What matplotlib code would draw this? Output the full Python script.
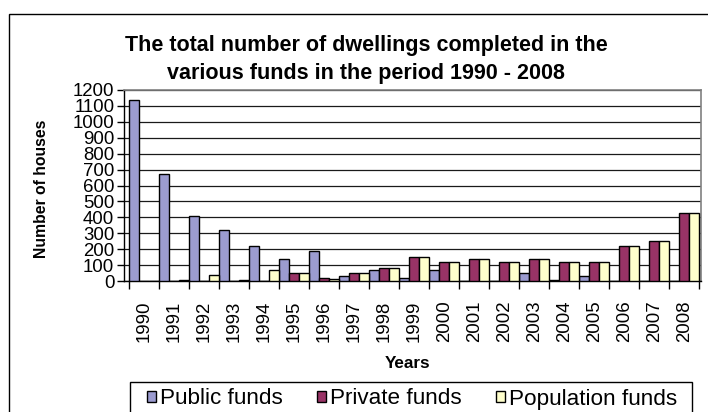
import matplotlib
matplotlib.use("Agg")
import matplotlib.pyplot as plt
from matplotlib.patches import Rectangle, Patch
import numpy as np

plt.rcParams['font.family'] = ['Liberation Sans', 'DejaVu Sans']

years = [str(y) for y in range(1990, 2009)]
public_funds = [1140, 675, 410, 320, 220, 140, 190, 30, 70, 20,
                70, 0, 0, 50, 5, 30, 0, 0, 0]
private_funds = [0, 0, 0, 0, 0, 50, 18, 50, 80, 150,
                 120, 140, 120, 140, 120, 120, 220, 250, 430]
population_funds = [0, 8, 40, 8, 70, 50, 15, 50, 80, 150,
                    120, 140, 120, 140, 120, 120, 220, 250, 430]
series_names = ["Public funds", "Private funds", "Population funds"]
series_colors = ["#9B9BD0", "#993366", "#FFFFCC"]
y_ticks = list(range(0, 1201, 100))

W, H = 708, 412
fig = plt.figure(figsize=(W / 100, H / 100), dpi=100)

# outer chart frame (runs off the right and bottom edges)
fig.patches.append(Rectangle((9 / W, -0.1), 1.1, 1 - 14 / H + 0.1,
                             transform=fig.transFigure, fill=False,
                             edgecolor="black", linewidth=1.0))

ax = fig.add_axes([124 / W, 1 - 281 / H, (701 - 124) / W, (281 - 90) / H])

x = np.arange(len(years))
bw = 1 / 3
for k, (vals, col) in enumerate(zip([public_funds, private_funds, population_funds],
                                    series_colors)):
    ax.bar(x + (k - 1) * bw, vals, width=bw, color=col, edgecolor="black",
           linewidth=1.0, zorder=3)

ax.set_xlim(-0.68, len(years) - 0.45)
ax.set_ylim(0, 1200)
ax.set_yticks(y_ticks)
ax.set_yticklabels([str(v) for v in y_ticks], fontsize=13.4)
ax.yaxis.grid(True, color="#1a1a1a", linewidth=0.9, zorder=0)
ax.set_axisbelow(True)

# category labels centred, tick marks on category boundaries
ax.set_xticks(x)
ax.set_xticklabels(years, rotation=90, fontsize=13.4)
ax.tick_params(axis="x", which="major", length=0, pad=14)
ax.set_xticks(np.arange(len(years) + 1) - 0.5, minor=True)
ax.tick_params(axis="x", which="minor", length=6, width=1, color="black")
ax.tick_params(axis="y", length=5, width=1, pad=2)

for s in ["top", "right"]:
    ax.spines[s].set_color("#808080")
    ax.spines[s].set_linewidth(1.2)
for s in ["left", "bottom"]:
    ax.spines[s].set_color("black")
    ax.spines[s].set_linewidth(1.0)

fig.text(42 / W, 1 - 189 / H, "Number of houses", rotation=90, fontsize=11.3,
         fontweight="bold", ha="center", va="center")
fig.text(408 / W, 1 - 363 / H, "Years", fontsize=12.3, fontweight="bold",
         ha="center", va="center")
fig.text(366 / W, 1 - 59.5 / H,
         "The total number of dwellings completed in the\nvarious funds in the period 1990 - 2008",
         fontsize=15.5, fontweight="bold", ha="center", va="center",
         linespacing=1.45)

# legend box
fig.patches.append(Rectangle((130 / W, -0.1), (692 - 130) / W, 1 - 382 / H + 0.1,
                             transform=fig.transFigure, fill=False,
                             edgecolor="black", linewidth=1.0))
handles = [Patch(facecolor=c, edgecolor="black", linewidth=1.0) for c in series_colors]
fig.legend(handles, series_names, loc="center", bbox_to_anchor=(412 / W, 1 - 399 / H),
           ncol=3, frameon=False, fontsize=16.2, handlelength=0.4,
           handleheight=0.4, handletextpad=0.2, columnspacing=1.5,
           borderpad=0, borderaxespad=0)

fig.savefig("out.png", dpi=100)
